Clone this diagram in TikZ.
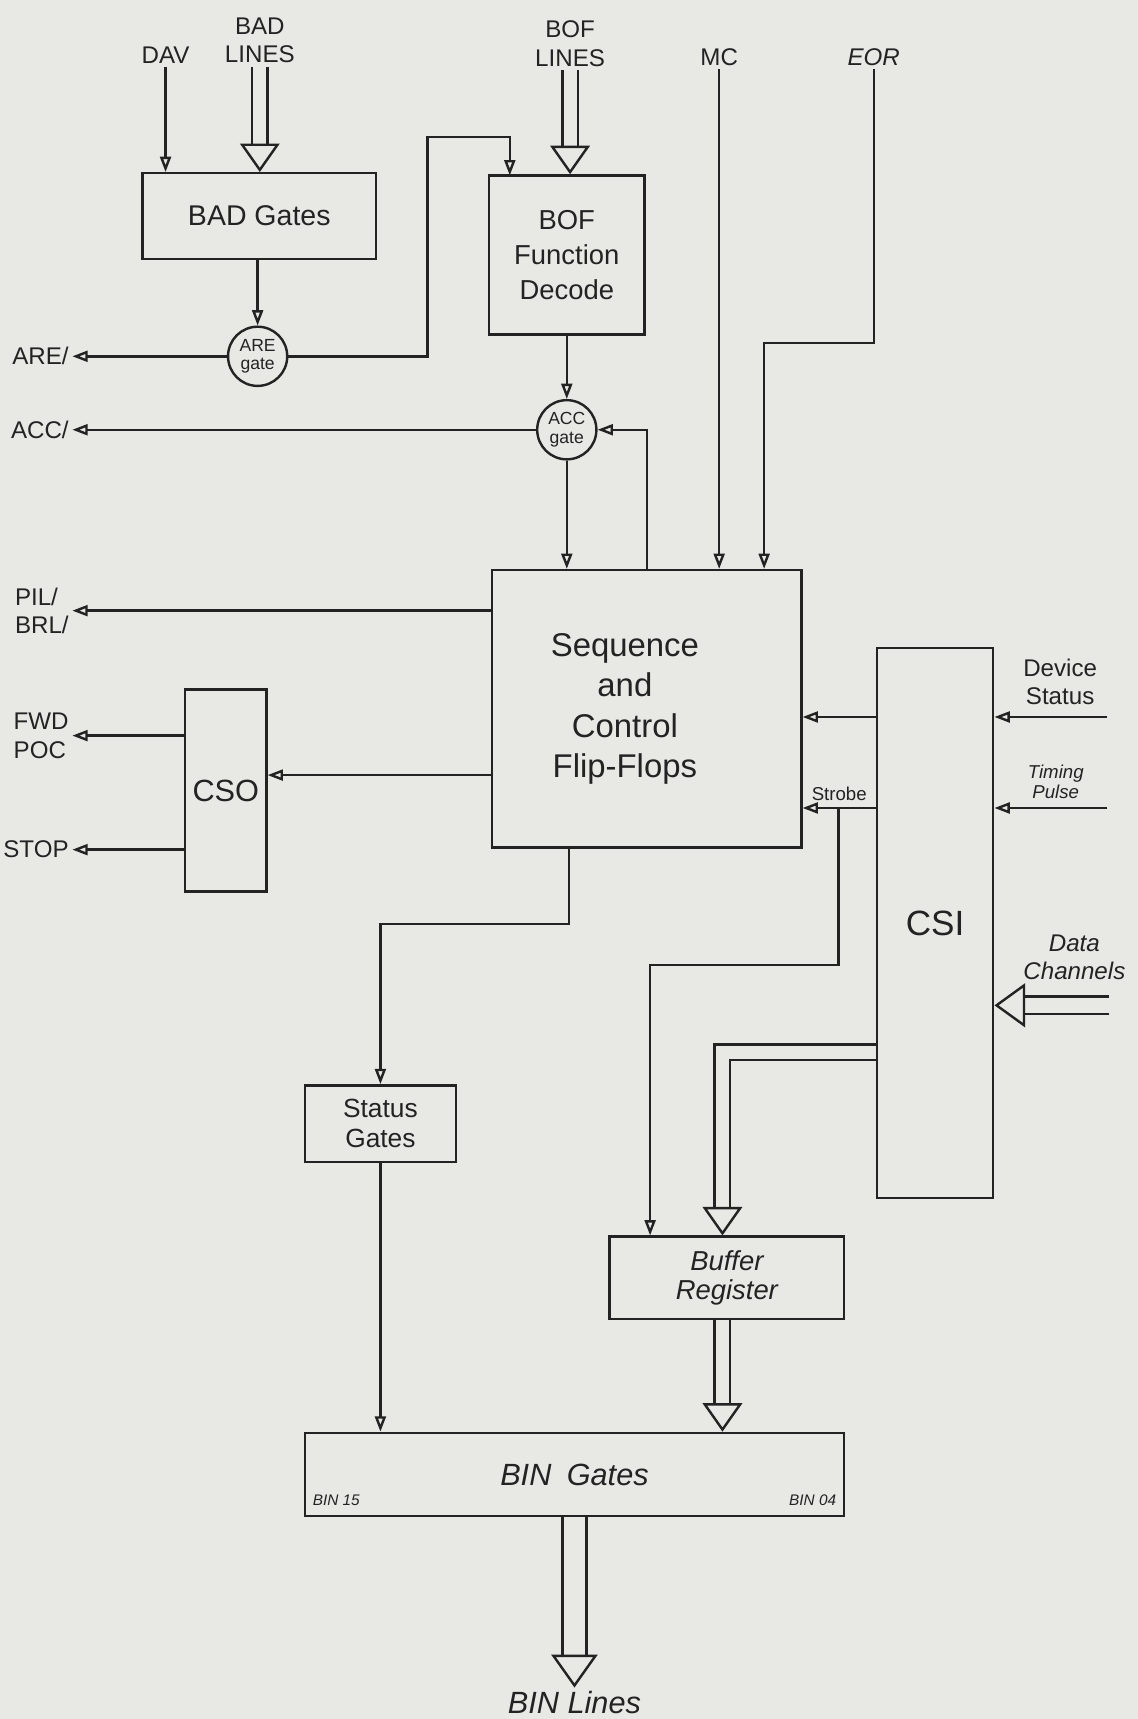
\documentclass[tikz,border=0pt]{standalone}
\usepackage{fontspec}
\setmainfont{Liberation Sans}
\usetikzlibrary{arrows.meta, positioning, shapes.geometric}
\definecolor{paper}{RGB}{232, 232, 229}
\definecolor{ink}{RGB}{35, 35, 35}
\tikzset{
  blk/.style = {
    rectangle, draw=ink, line width=1.1pt,
    align=center, inner sep=2pt, text=ink
  },
  gate/.style = {
    circle, draw=ink, line width=1.1pt, fill=paper,
    minimum size=27pt, inner sep=0pt, align=center,
    font=\fontsize{8}{8.5}\selectfont, text=ink
  },
  lbl/.style  = {align=center, inner sep=1.5pt, text=ink,
    font=\fontsize{11}{13}\selectfont},
  smlbl/.style = {align=center, inner sep=1pt, text=ink,
    font=\fontsize{8.5}{9}\selectfont\itshape},
  arr/.style  = {draw=ink, line width=1.1pt,
    -{Triangle[open, length=7pt, width=5pt]}},
  bus/.style  = {draw=ink, line width=1.1pt, double=paper,
    double distance=6pt, -{Triangle[open, length=13pt, width=18pt]}},
  widebus/.style = {bus, double distance=10pt,
    -{Triangle[open, length=15pt, width=21pt]}},
}

\begin{document}
\begin{tikzpicture}[x=0.5pt, y=-0.5pt]

  \fill[paper] (0,0) rectangle (1038,1568);
  \useasboundingbox (0,0) rectangle (1038,1568);

  % inputs at the top
  \node[lbl] (dav)  at (151,50) {DAV};
  \node[lbl] (badl) at (237,37) {BAD\\LINES};
  \node[lbl] (bofl) at (520,40) {BOF\\LINES};
  \node[lbl] (mc)   at (656,52) {MC};
  \node[lbl, font=\fontsize{11}{13}\selectfont\itshape] (eor) at (797,52) {EOR};

  % blocks
  \node[blk, minimum width=106.5pt, minimum height=39pt,
        font=\fontsize{13}{15}\selectfont] (badg) at (236.5,197) {BAD Gates};
  \node[blk, minimum width=71pt, minimum height=72.5pt,
        font=\fontsize{12.5}{16}\selectfont] (bofd) at (517,232.5)
    {BOF\\Function\\Decode};
  \node[gate] (aregate) at (235,325) {ARE\\gate};
  \node[gate] (accgate) at (517,392) {ACC\\gate};
  \node[blk, minimum width=141pt, minimum height=126.5pt,
        font=\fontsize{15}{18.5}\selectfont] (seq) at (590,646.5)
    {\begin{tabular}{@{}c@{}}Sequence\\and\\Control\\Flip-Flops\end{tabular}%
     \hspace*{20pt}};
  \node[blk, minimum width=37pt, minimum height=92pt,
        font=\fontsize{14}{16}\selectfont] (cso) at (206,721) {CSO};
  \node[blk, minimum width=53pt, minimum height=251pt,
        font=\fontsize{16}{18}\selectfont] (csi) at (853,842) {CSI};
  \node[blk, minimum width=69pt, minimum height=35pt,
        font=\fontsize{12}{13.5}\selectfont] (statg) at (347,1025)
    {Status\\Gates};
  \node[blk, minimum width=107pt, minimum height=37.5pt,
        font=\fontsize{12.5}{13.5}\selectfont\itshape] (bufr) at (663,1165.5)
    {Buffer\\Register};
  \node[blk, minimum width=246pt, minimum height=38pt,
        font=\fontsize{14}{16}\selectfont\itshape] (bing) at (524,1345)
    {BIN\enspace Gates};
  \node[smlbl, anchor=south west, font=\fontsize{7}{8}\selectfont\itshape]
    (bin15) at ([xshift=3pt, yshift=4pt]bing.south west) {BIN 15};
  \node[smlbl, anchor=south east, font=\fontsize{7}{8}\selectfont\itshape]
    (bin04) at ([xshift=-3pt, yshift=4pt]bing.south east) {BIN 04};

  % outputs on the left
  \node[lbl, anchor=east] (are)  at (66,325) {ARE/};
  \node[lbl, anchor=east] (acc)  at (66,392) {ACC/};
  \node[lbl, anchor=east, align=left] (pil) at (66,557) {PIL/\\BRL/};
  \node[lbl, anchor=east, align=left] (fwd) at (66,671) {FWD\\POC};
  \node[lbl, anchor=east] (stop) at (66,775) {STOP};

  % inputs on the right
  \node[lbl] (devst) at (967,622) {Device\\Status};
  \node[smlbl] (timp) at (963,713) {Timing\\Pulse};
  \node[lbl, font=\fontsize{11}{13}\selectfont\itshape] (datch) at (980,873)
    {Data\\Channels};
  \node[lbl, font=\fontsize{14}{16}\selectfont\itshape] (binl) at (524,1553)
    {BIN Lines};

  \coordinate (devin)   at (1010,654);
  \coordinate (timin)   at (1010,737);
  \coordinate (datin)   at (1012,917);
  \coordinate (aretop)  at (390,125);
  \coordinate (bofin)   at (465,160);
  \coordinate (eorbend) at (697,313);
  \coordinate (strb)    at (765,737);
  \coordinate (strbend) at (593,880);
  \coordinate (seqbend) at (519,843);
  \coordinate (busbend) at (659,960);

  % connectors
  \draw[arr] (dav.south) -- (dav.south |- badg.north);
  \draw[bus] (badl.south) -- (badl.south |- badg.north);
  \draw[bus] (bofl.south) -- (bofl.south |- bofd.north);
  \draw[arr] (aregate.north |- badg.south) -- (aregate.north);
  \draw[arr] (aregate.west) -- (are.east);
  \draw[arr] (aregate.east) -| (aretop) -| (bofin);
  \draw[arr] (bofd.south) -- (accgate.north);
  \draw[arr] (accgate.west) -- (acc.east);
  \draw[arr] (seq.north) |- (accgate.east);
  \draw[arr] (accgate.south) -- (accgate.south |- seq.north);
  \draw[arr] (mc.south) -- (mc.south |- seq.north);
  \draw[arr] (eor.south) |- (eorbend) -- (eorbend |- seq.north);

  \draw[arr] (seq.west |- pil.east) -- (pil.east);
  \draw[arr] (seq.west |- 0,707) -- (cso.east |- 0,707);
  \draw[arr] (cso.west |- fwd.east) -- (fwd.east);
  \draw[arr] (cso.west |- stop.east) -- (stop.east);

  \draw[arr] (csi.west |- devin) -- (seq.east |- devin);
  \draw[arr] (csi.west |- strb) -- (seq.east |- strb)
    node[smlbl, midway, above=2pt, font=\fontsize{8.5}{9}\selectfont] {Strobe};
  \draw[arr] (strb) |- (strbend) -- (strbend |- bufr.north);
  \draw[arr] (devin) -- (devin -| csi.east);
  \draw[arr] (timin) -- (timin -| csi.east);
  \draw[bus, double distance=7pt,
        -{Triangle[open, length=14pt, width=20pt]}] (datin) -- (datin -| csi.east);

  \draw[arr] (seqbend |- seq.south) -- (seqbend) -| (statg.north);
  \draw[arr] (statg.south) -- (statg.south |- bing.north);
  \draw[bus] (csi.west |- busbend) -| (busbend |- bufr.north);
  \draw[bus] (busbend |- bufr.south) -- (busbend |- bing.north);
  \draw[widebus] (bing.south) -- (binl.north);

\end{tikzpicture}
\end{document}
